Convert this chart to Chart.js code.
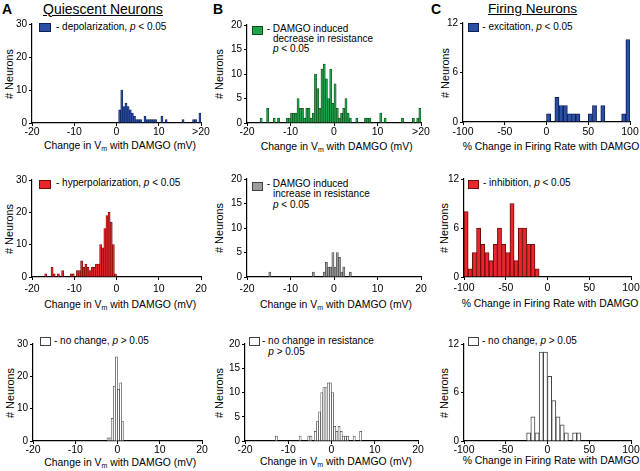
<!DOCTYPE html>
<html><head><meta charset="utf-8">
<script src="https://cdn.jsdelivr.net/npm/chart.js@4.4.0/dist/chart.umd.min.js"></script>
<style>
html,body{margin:0;padding:0;background:#fff;}
body{width:640px;height:471px;position:relative;overflow:hidden;font-family:"Liberation Sans",Arial,sans-serif;color:#000;}
canvas{position:absolute;}
.t{position:absolute;white-space:nowrap;line-height:1;font-size:10px;}
.h{position:absolute;white-space:nowrap;line-height:1;font-size:14px;}
.sw{position:absolute;box-sizing:border-box;border:1px solid #222;}
.yt{position:absolute;white-space:nowrap;line-height:1;font-size:10.8px;transform:translate(-50%,-50%) rotate(-90deg);}
.xt{position:absolute;white-space:nowrap;line-height:1;font-size:10.4px;}
.xt sub{font-size:7px;vertical-align:-2px;line-height:0;}
</style></head><body>
<div class="h" style="left:2px;top:1.5px;font-weight:bold;">A</div>
<div class="h" style="left:43px;top:1.5px;text-decoration:underline;">Quiescent Neurons</div>
<div class="h" style="left:213px;top:1.5px;font-weight:bold;">B</div>
<div class="h" style="left:431px;top:1.5px;font-weight:bold;">C</div>
<div class="h" style="left:488px;top:1.8px;font-size:13.6px;text-decoration:underline;">Firing Neurons</div>

<div class="sw" style="left:39px;top:23px;width:12px;height:9px;background:#2b4fa3;border-color:#0e1f55;"></div>
<div class="t" style="left:56px;top:22.2px;">- depolarization, <i>p</i> &lt; 0.05</div>
<div class="sw" style="left:252px;top:26px;width:11px;height:9px;background:#21a34a;border-color:#0b4f1e;"></div>
<div class="t" style="left:266.7px;top:23.8px;">- DAMGO induced</div>
<div class="t" style="left:273px;top:33.8px;">decrease in resistance</div>
<div class="t" style="left:273px;top:43.8px;"><i>p</i> &lt; 0.05</div>
<div class="sw" style="left:468px;top:23px;width:11px;height:9px;background:#2b4fa3;border-color:#0e1f55;"></div>
<div class="t" style="left:482.3px;top:21.8px;">- excitation, <i>p</i> &lt; 0.05</div>

<div class="sw" style="left:39px;top:180px;width:12px;height:8.5px;background:#e8262b;border-color:#6e0c0c;"></div>
<div class="t" style="left:56px;top:178.2px;">- hyperpolarization, <i>p</i> &lt; 0.05</div>
<div class="sw" style="left:252px;top:182px;width:11px;height:9px;background:#9c9c9c;border-color:#444;"></div>
<div class="t" style="left:266.7px;top:179.2px;">- DAMGO induced</div>
<div class="t" style="left:273px;top:189.2px;">increase in resistance</div>
<div class="t" style="left:273px;top:199.5px;"><i>p</i> &lt; 0.05</div>
<div class="sw" style="left:468px;top:180px;width:11px;height:8.5px;background:#e8262b;border-color:#6e0c0c;"></div>
<div class="t" style="left:483px;top:178.2px;">- inhibition, <i>p</i> &lt; 0.05</div>

<div class="sw" style="left:40px;top:337px;width:11px;height:9px;background:#fff;border-color:#444;"></div>
<div class="t" style="left:54px;top:335.8px;">- no change, <i>p</i> &gt; 0.05</div>
<div class="sw" style="left:249px;top:337px;width:11px;height:9px;background:#fff;border-color:#444;"></div>
<div class="t" style="left:262px;top:335.8px;">- no change in resistance</div>
<div class="t" style="left:268.3px;top:346.5px;"><i>p</i> &gt; 0.05</div>
<div class="sw" style="left:468px;top:337px;width:11px;height:8.5px;background:#fff;border-color:#444;"></div>
<div class="t" style="left:482px;top:335.5px;">- no change, <i>p</i> &gt; 0.05</div>

<div class="yt" style="left:9px;top:73.5px;"># Neurons</div>
<div class="yt" style="left:219px;top:74px;"># Neurons</div>
<div class="yt" style="left:445px;top:72.5px;"># Neurons</div>
<div class="yt" style="left:9px;top:228.5px;"># Neurons</div>
<div class="yt" style="left:219px;top:228px;"># Neurons</div>
<div class="yt" style="left:444px;top:228px;"># Neurons</div>
<div class="yt" style="left:9.5px;top:392.5px;"># Neurons</div>
<div class="yt" style="left:219px;top:392.5px;"># Neurons</div>
<div class="yt" style="left:444px;top:392.5px;"># Neurons</div>

<div class="xt" style="left:44px;top:141px;">Change in V<sub>m</sub> with DAMGO (mV)</div>
<div class="xt" style="left:260.7px;top:141.6px;">Change in V<sub>m</sub> with DAMGO (mV)</div>
<div class="xt" style="left:462.7px;top:141.6px;">% Change in Firing Rate with DAMGO</div>
<div class="xt" style="left:44.3px;top:299.9px;">Change in V<sub>m</sub> with DAMGO (mV)</div>
<div class="xt" style="left:260px;top:299.9px;">Change in V<sub>m</sub> with DAMGO (mV)</div>
<div class="xt" style="left:461.7px;top:298.9px;">% Change in Firing Rate with DAMGO</div>
<div class="xt" style="left:44.3px;top:457.5px;">Change in V<sub>m</sub> with DAMGO (mV)</div>
<div class="xt" style="left:260px;top:456.5px;">Change in V<sub>m</sub> with DAMGO (mV)</div>
<div class="xt" style="left:462.7px;top:455.5px;">% Change in Firing Rate with DAMGO</div>

<script>
// ---- Data: histogram bin centres and neuron counts ----
// Quiescent neurons, change in Vm (mV), 0.5 mV bins
const depolBins   = [0.75,1.25,1.75,2.25,2.75,3.25,3.75,4.25,4.75,5.25,5.75,6.75,7.25,7.75,8.25,8.75,9.25,10.75,11.75,15.75,18.25,18.75,19.75];
const depolCounts = [4,10,5,6,5,4,3,2,1,1,1,2,1,1,1,1,1,2,1,1,1,1,3];

const hyperBins   = [-16.75,-15.25,-14.75,-13.75,-12.75,-10.75,-10.25,-9.25,-8.75,-8.25,-7.75,-7.25,-6.75,-6.25,-5.75,-5.25,-4.75,-4.25,-3.75,-3.25,-2.75,-2.25,-1.75,-1.25,-0.75,-0.25];
const hyperCounts = [1,3,1,1,2,1,1,2,2,5,3,4,3,2,3,3,4,4,10,9,15,19,20,17,10,1];

const qNoChangeBins   = [-2.25,-1.75,-1.25,-0.75,-0.25,0.25,0.75,1.25];
const qNoChangeCounts = [1,1,7,17,26,16,18,6];

// Resistance groups, change in Vm (mV), 0.5 mV bins
const decResBins   = [-16.75,-15.25,-13.75,-12.75,-10.75,-10.25,-9.75,-9.25,-8.75,-8.25,-7.75,-7.25,-6.75,-6.25,-5.75,-5.25,-4.75,-4.25,-3.75,-3.25,-2.75,-2.25,-1.75,-1.25,-0.75,-0.25,0.25,0.75,1.25,1.75,2.25,2.75,3.25,3.75,5.25,7.25,7.75,8.25,10.75,11.75,15.75,18.25,19.25,19.75];
const decResCounts = [1,3,1,1,1,1,2,2,2,5,3,3,1,3,3,1,2,10,7,3,11,12,9,5,11,4,8,3,1,2,3,5,2,1,1,1,1,1,2,1,1,1,1,3];

const incResBins   = [-14.75,-4.75,-2.25,-1.75,-1.25,-0.75,-0.25,0.25,0.75,1.25,1.75,2.25,3.75];
const incResCounts = [1,1,1,3,2,2,5,2,5,4,1,2,1];

const noResBins   = [-12.75,-7.25,-5.25,-4.75,-3.75,-3.25,-2.75,-2.25,-1.75,-1.25,-0.75,-0.25,0.25,0.75,1.25,1.75,2.25,2.75,3.25,3.75,5.25,6.75];
const noResCounts = [1,1,1,1,2,4,6,10,11,11,12,12,10,3,2,3,2,1,1,1,1,2];

// Firing neurons, % change in firing rate, 5 % bins
const exciteBins   = [2.5,12.5,17.5,22.5,27.5,32.5,37.5,52.5,57.5,67.5,92.5,97.5];
const exciteCounts = [1,3,2,2,1,1,1,1,2,2,1,10];

const inhibBins   = [-97.5,-92.5,-87.5,-82.5,-77.5,-72.5,-67.5,-62.5,-57.5,-52.5,-47.5,-42.5,-37.5,-32.5,-27.5,-22.5,-17.5,-12.5];
const inhibCounts = [8,1,3,6,4,3,2,4,6,4,3,9,2,6,6,4,4,1];

const fNoChangeBins   = [-22.5,-17.5,-12.5,-7.5,-2.5,2.5,7.5,12.5,17.5,22.5,32.5,37.5];
const fNoChangeCounts = [1,3,1,11,11,8,5,3,2,1,1,1];

// Axis ranges
const vmRange = [-20, 20], vmStep = 10;
const frRange = [-100, 100], frStep = 50;

// ---- Styles ----
const BLUE  = {fill:'#2b4fa3', stroke:'#0e1f55'};
const GREEN = {fill:'#21a34a', stroke:'#0b4f1e'};
const RED   = {fill:'#e8262b', stroke:'#6e0c0c'};
const GRAY  = {fill:'#9c9c9c', stroke:'#444444'};
const WHITE = {fill:'#ffffff', stroke:'#444444'};

const panels = [
  {box:[32,24,201,123],  bins:depolBins, counts:depolCounts, col:BLUE, xr:vmRange, xs:vmStep, ymax:30, ys:10, gt20:true, xpad:0, bw:0.7},
  {box:[247,25,421,123], bins:decResBins, counts:decResCounts, col:GREEN, xr:vmRange, xs:vmStep, ymax:20, ys:5, gt20:true, xpad:0, bw:0.7},
  {box:[463,23,630,122], bins:exciteBins, counts:exciteCounts, col:BLUE, xr:frRange, xs:frStep, ymax:12, ys:6, xpad:0.5, bw:1},
  {box:[32,180,201,277], bins:hyperBins, counts:hyperCounts, col:RED, xr:vmRange, xs:vmStep, ymax:30, ys:10, xpad:2.5, bw:0.7},
  {box:[247,179,421,277], bins:incResBins, counts:incResCounts, col:GRAY, xr:vmRange, xs:vmStep, ymax:20, ys:5, xpad:2.5, bw:0.7},
  {box:[464,179,631,277], bins:inhibBins, counts:inhibCounts, col:RED, xr:frRange, xs:frStep, ymax:12, ys:6, xpad:1.5, bw:1},
  {box:[33,344,202,441], bins:qNoChangeBins, counts:qNoChangeCounts, col:WHITE, xr:vmRange, xs:vmStep, ymax:30, ys:10, xpad:0, bw:0.7},
  {box:[245,344,418,441], bins:noResBins, counts:noResCounts, col:WHITE, xr:vmRange, xs:vmStep, ymax:20, ys:5, xpad:0, bw:0.7},
  {box:[464,344,631,441], bins:fNoChangeBins, counts:fNoChangeCounts, col:WHITE, xr:frRange, xs:frStep, ymax:12, ys:6, xpad:0, bw:1}
];

const YW = 30, PT = 8, PR = 14, XH = 22;
const FONT = '"Liberation Sans", Arial, sans-serif';

panels.forEach(p => {
  const [L,T,R,B] = p.box;
  const w = R - L + YW + PR, h = B - T + PT + XH;
  const cv = document.createElement('canvas');
  cv.width = w; cv.height = h;
  cv.style.left = (L - YW) + 'px'; cv.style.top = (T - PT) + 'px';
  cv.style.width = w + 'px'; cv.style.height = h + 'px';
  document.body.appendChild(cv);
  new Chart(cv, {
    type: 'bar',
    data: {datasets: [{
      data: p.bins.map((b, i) => ({x: b, y: p.counts[i]})),
      backgroundColor: p.col.fill, borderColor: p.col.stroke, borderWidth: p.bw,
      barPercentage: 1, categoryPercentage: 1, borderSkipped: 'start'
    }]},
    options: {
      responsive: false, animation: false, devicePixelRatio: 1,
      layout: {padding: {top: PT, right: PR, left: 0, bottom: 0}},
      plugins: {legend: {display: false}, tooltip: {enabled: false}},
      scales: {
        x: {
          type: 'linear', min: p.xr[0], max: p.xr[1], offset: false,
          grid: {display: true, drawOnChartArea: false, drawTicks: true, tickLength: 3, color: '#000', lineWidth: 1, offset: false},
          border: {display: true, color: '#000', width: 1.2},
          ticks: {stepSize: p.xs, autoSkip: false, maxRotation: 0, padding: p.xpad, color: '#000',
                  font: {family: FONT, size: 10.5},
                  callback: v => (p.gt20 && v === 20) ? '>20' : String(v)},
          afterFit: s => { s.height = XH; }
        },
        y: {
          min: 0, max: p.ymax,
          grid: {display: true, drawOnChartArea: false, drawTicks: true, tickLength: 3, color: '#000', lineWidth: 1},
          border: {display: true, color: '#000', width: 1.2},
          ticks: {stepSize: p.ys, autoSkip: false, padding: 2, color: '#000', font: {family: FONT, size: 10}},
          afterFit: s => { s.width = YW; }
        }
      }
    }
  });
});
</script>
</body></html>
